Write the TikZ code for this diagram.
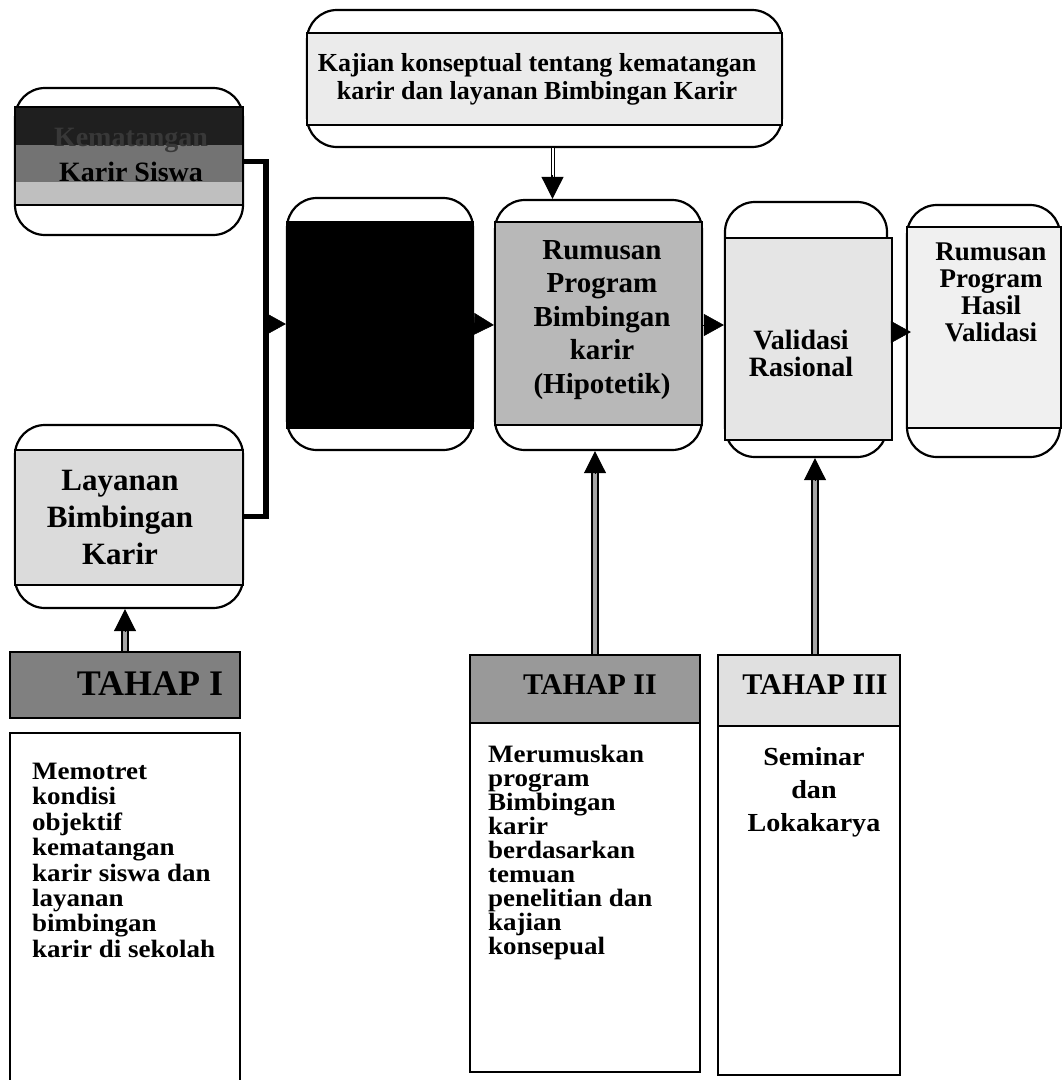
\documentclass[tikz,border=0pt]{standalone}
\usepackage{fontspec}
\setmainfont{Liberation Serif}
\newfontfamily\widefont{Liberation Serif}[FakeStretch=1.08]
\usetikzlibrary{arrows.meta}
\begin{document}
\begin{tikzpicture}[x=1pt,y=-1pt,
  obox/.style={draw, line width=2.2pt, rounded corners=30pt, inner sep=0pt, fill=white},
  ibox/.style={draw, line width=1.8pt, inner sep=0pt},
  tbox/.style={draw, line width=2.4pt, inner sep=0pt},
  conn/.style={line width=5.5pt},
  tri/.style={line width=0.5pt, -{Triangle[length=20pt,width=22pt]}},
  vtip/.style={line width=0.5pt, -{Triangle[length=22pt,width=22pt]}},
  shaft/.style={draw=black, line width=2pt, double=black!35, double distance=4pt},
  thinshaft/.style={draw=black, line width=1pt, double=white, double distance=2pt},
  lbl/.style={align=center, inner sep=0pt},
  body/.style={font=\widefont\bfseries\fontsize{25}{25.4}\selectfont, align=left, inner sep=0pt},
]
\useasboundingbox (0,0) rectangle (1063,1080);
\clip (0,0) rectangle (1063,1080);

% ---- top centre box
\node[obox, minimum width=475pt, minimum height=137pt] (kaj) at (544.5,78.5) {};
\node[ibox, fill=black!8, minimum width=475pt, minimum height=92pt] (kajin) at (544.5,79) {};
\node[lbl, font=\bfseries\fontsize{26}{28}\selectfont] (kajt) at (537,79)
  {Kajian konseptual tentang kematangan\\karir dan layanan Bimbingan Karir};

% ---- top-left box
\node[obox, minimum width=228pt, minimum height=147pt] (ks) at (129,161.5) {};
\fill[black!88] (15,107) rectangle (243,145);
\fill[black!55] (15,145) rectangle (243,182);
\fill[black!25] (15,182) rectangle (243,205);
\node[ibox, minimum width=228pt, minimum height=98pt] (ksin) at (129,156) {};
\node[lbl, font=\bfseries\fontsize{28}{35}\selectfont] (kst) at (131,155)
  {\textcolor{black!78}{Kematangan}\\Karir Siswa};

% ---- black box
\node[obox, minimum width=186pt, minimum height=252pt] (bb) at (380,324) {};
\node[ibox, fill=black, minimum width=186pt, minimum height=206pt] (bbin) at (380,325) {};

% ---- Rumusan (hipotetik)
\node[obox, minimum width=207pt, minimum height=250pt] (rum) at (598.5,325) {};
\node[ibox, fill=black!28, minimum width=207pt, minimum height=203pt] (rumin) at (598.5,323.5) {};
\node[lbl, font=\bfseries\fontsize{29}{33.5}\selectfont] (rumt) at (602,320)
  {Rumusan\\Program\\Bimbingan\\karir\\(Hipotetik)};

% ---- Validasi Rasional
\node[obox, minimum width=162pt, minimum height=255pt] (val) at (806,329.5) {};
\node[ibox, fill=black!10, minimum width=167pt, minimum height=202pt] (valin) at (808.5,339) {};
\node[lbl, font=\bfseries\fontsize{28}{27}\selectfont] (valt) at (801,353)
  {Validasi\\Rasional};

% ---- Rumusan Program Hasil Validasi
\node[obox, minimum width=153pt, minimum height=252pt] (has) at (983.5,331) {};
\node[ibox, fill=black!6, minimum width=154pt, minimum height=201pt] (hasin) at (984,327.5) {};
\node[lbl, font=\bfseries\fontsize{27}{27}\selectfont] (hast) at (991,292)
  {Rumusan\\Program\\Hasil\\Validasi};

% ---- Layanan Bimbingan Karir
\node[obox, minimum width=228pt, minimum height=183pt] (lay) at (129,516.5) {};
\node[ibox, fill=black!14, minimum width=228pt, minimum height=135pt] (layin) at (129,517.5) {};
\node[lbl, font=\bfseries\fontsize{31}{37}\selectfont] (layt) at (120,517)
  {Layanan\\Bimbingan\\Karir};

% ---- TAHAP boxes
\node[tbox, fill=black!50, minimum width=230pt, minimum height=66pt] (t1) at (125,685) {};
\node[lbl, font=\bfseries\fontsize{36}{36}\selectfont] (t1t) at (150,684) {TAHAP I};
\node[tbox, minimum width=230pt, minimum height=362pt] (m1) at (125,914) {};
\node[body, anchor=north west] (m1t) at (32,763)
  {Memotret\\kondisi\\objektif\\kematangan\\karir siswa dan\\layanan\\bimbingan\\karir di sekolah};

\node[tbox, fill=black!40, minimum width=230pt, minimum height=68pt] (t2) at (585,689) {};
\node[lbl, font=\bfseries\fontsize{30}{30}\selectfont] (t2t) at (590,685) {TAHAP II};
\node[tbox, minimum width=230pt, minimum height=349pt] (m2) at (585,897.5) {};
\node[body, font=\widefont\bfseries\fontsize{25}{24}\selectfont, anchor=north west] (m2t) at (488,745)
  {Merumuskan\\program\\Bimbingan\\karir\\berdasarkan\\temuan\\penelitian dan\\kajian\\konsepual};

\node[tbox, fill=black!12, minimum width=182pt, minimum height=71pt] (t3) at (809,690.5) {};
\node[lbl, font=\bfseries\fontsize{30}{30}\selectfont] (t3t) at (815,685) {TAHAP III};
\node[tbox, minimum width=182pt, minimum height=349pt] (m3) at (809,900.5) {};
\node[lbl, font=\widefont\bfseries\fontsize{26}{33}\selectfont, anchor=north] (m3t) at (814,747)
  {Seminar\\dan\\Lokakarya};

% ---- connectors
\draw[conn] (ks.east) -- ++(22,0) coordinate (jt) |- (lay.east);
\coordinate (j) at (265,324);
\draw[tri] (j) -- (bb.west);
\draw[tri] (bb.east) -- (rum.west);
\draw[tri] (rum.east) -- (rum.east -| val.west);
\draw[tri] ([yshift=7pt]valin.east) -- ([yshift=7pt,xshift=5pt]valin.east -| has.west);

% top arrow
\coordinate (ka) at ([xshift=8pt]kaj.south);
\coordinate (kb) at (ka |- rum.north);
\draw[thinshaft] (ka) -- ([yshift=22pt]kb);
\draw[vtip] ([yshift=24pt]kb) -- (kb);

% TAHAP I -> Layanan
\coordinate (a1) at (t1.north);
\coordinate (b1) at (a1 |- lay.south);
\draw[shaft] (a1) -- ([yshift=-20pt]b1);
\draw[vtip] ([yshift=-22pt]b1) -- (b1);

% TAHAP II -> Rumusan
\coordinate (a2) at ([xshift=10pt]t2.north);
\coordinate (b2) at (a2 |- rum.south);
\draw[shaft] (a2) -- ([yshift=-20pt]b2);
\draw[vtip] ([yshift=-22pt]b2) -- (b2);

% TAHAP III -> Validasi
\coordinate (a3) at ([xshift=6pt]t3.north);
\coordinate (b3) at (a3 |- val.south);
\draw[shaft] (a3) -- ([yshift=-20pt]b3);
\draw[vtip] ([yshift=-22pt]b3) -- (b3);
\end{tikzpicture}
\end{document}
